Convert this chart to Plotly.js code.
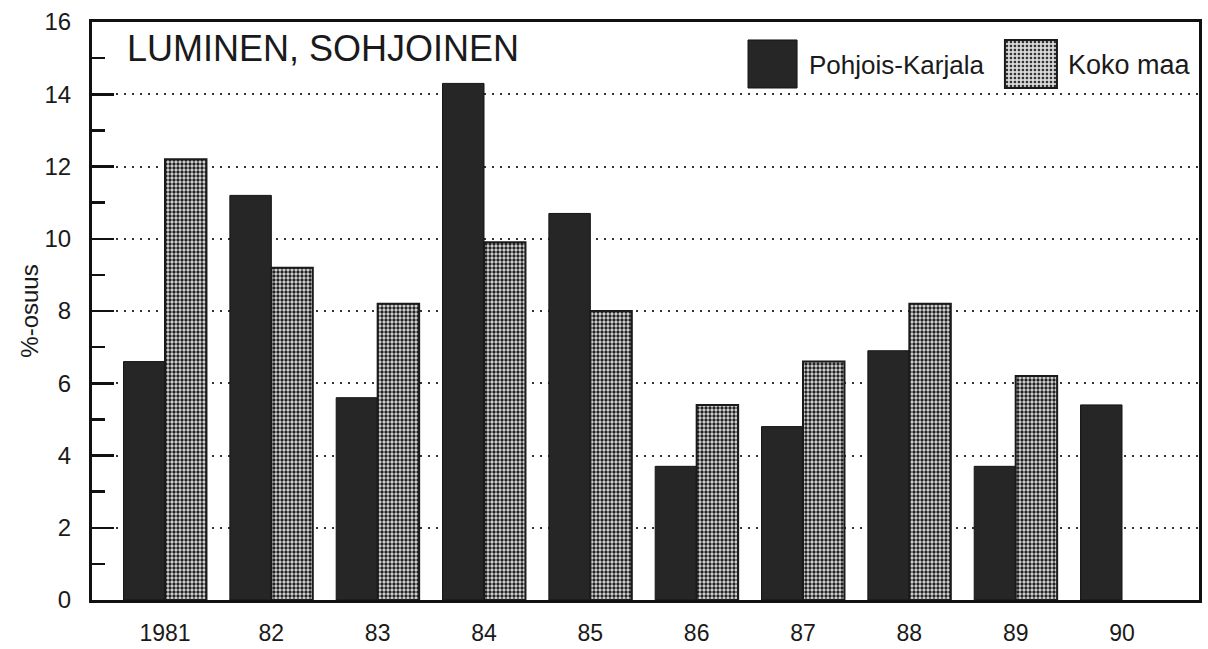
<!DOCTYPE html>
<html>
<head>
<meta charset="utf-8">
<script src="https://cdn.plot.ly/plotly-3.0.1.min.js"></script>
<style>html,body{margin:0;padding:0;background:#fff;}#chart{width:1208px;height:649px;}</style>
</head>
<body>
<div id="chart"></div>
<script>
// Data
var years = ["1981", "82", "83", "84", "85", "86", "87", "88", "89", "90"];
var pohjoisKarjala = [6.6, 11.2, 5.6, 14.3, 10.7, 3.7, 4.8, 6.9, 3.7, 5.4];
var kokoMaa = [12.2, 9.2, 8.2, 9.9, 8.0, 5.4, 6.6, 8.2, 6.2, null];
var seriesNames = ["Pohjois-Karjala", "Koko maa"];
var chartTitle = "LUMINEN, SOHJOINEN";
var yTitle = "%-osuus";
var yTicks = [0, 2, 4, 6, 8, 10, 12, 14, 16];

var FONT = "Liberation Sans, Arial, Helvetica, sans-serif";
var INK = "#1a1a1a";

var traces = [
  {
    type: "bar", name: seriesNames[0], x: years, y: pohjoisKarjala,
    marker: {color: "#262626", line: {color: "#151515", width: 1}},
    showlegend: false, hoverinfo: "x+y+name"
  },
  {
    type: "bar", name: seriesNames[1], x: years, y: kokoMaa,
    marker: {
      color: "#d8d8d8",
      line: {color: "#1a1a1a", width: 2},
      pattern: {shape: ".", fgcolor: "#222", bgcolor: "#dcdcdc", size: 4, solidity: 0.55}
    },
    showlegend: false, hoverinfo: "x+y+name"
  }
];

var dotsSvg = "data:image/svg+xml;utf8," + encodeURIComponent(
  '<svg xmlns="http://www.w3.org/2000/svg" width="52" height="48">' +
  '<defs><pattern id="p" width="4" height="4" patternUnits="userSpaceOnUse">' +
  '<rect width="4" height="4" fill="#dcdcdc"/><circle cx="2" cy="2" r="1.35" fill="#222"/></pattern></defs>' +
  '<rect width="52" height="48" fill="url(#p)"/></svg>');

var layout = {
  width: 1208, height: 649,
  margin: {l: 92, r: 9, t: 22, b: 49},
  paper_bgcolor: "#ffffff", plot_bgcolor: "#ffffff",
  font: {family: FONT, color: INK, size: 24},
  barmode: "group", bargap: 0.22, bargroupgap: 0,
  xaxis: {
    type: "category",
    range: [-0.6865, 9.724],
    showline: true, linewidth: 3, linecolor: "#111", mirror: true,
    ticks: "", showgrid: false, zeroline: false,
    tickfont: {family: FONT, size: 23, color: INK},
    ticklabelstandoff: 10
  },
  yaxis: {
    range: [0, 16],
    tickvals: yTicks,
    showline: true, linewidth: 3, linecolor: "#111", mirror: true,
    ticks: "inside", ticklen: 22, tickwidth: 2.5, tickcolor: "#111",
    minor: {dtick: 1, ticks: "inside", ticklen: 13, tickwidth: 2.5, tickcolor: "#111", showgrid: false},
    showgrid: true, gridcolor: "#333", gridwidth: 2, griddash: "2px,6px",
    zeroline: false,
    tickfont: {family: FONT, size: 24, color: INK},
    ticklabelstandoff: 13,
    title: {text: yTitle, font: {family: FONT, size: 24, color: INK}, standoff: 0}
  },
  annotations: [
    {text: chartTitle, xref: "paper", yref: "paper", x: 0.0298, y: 0.955,
     xanchor: "left", yanchor: "middle", showarrow: false,
     font: {family: FONT, size: 36, color: INK}},
    {text: seriesNames[0], xref: "paper", yref: "paper", x: 0.6459, y: 0.925,
     xanchor: "left", yanchor: "middle", showarrow: false,
     font: {family: FONT, size: 26, color: INK}},
    {text: seriesNames[1], xref: "paper", yref: "paper", x: 0.8800, y: 0.925,
     xanchor: "left", yanchor: "middle", showarrow: false,
     font: {family: FONT, size: 27, color: INK}}
  ],
  shapes: [
    {type: "rect", xref: "paper", yref: "paper", x0: 0.5926, x1: 0.6369, y0: 0.8858, y1: 0.9689,
     fillcolor: "#262626", line: {color: "#151515", width: 1}},
    {type: "rect", xref: "paper", yref: "paper", x0: 0.8247, x1: 0.8717, y0: 0.8858, y1: 0.9689,
     fillcolor: "rgba(0,0,0,0)", line: {color: "#1a1a1a", width: 2}, layer: "above"}
  ],
  images: [
    {source: dotsSvg, xref: "paper", yref: "paper", x: 0.8247, y: 0.9689,
     sizex: 0.047, sizey: 0.0831, xanchor: "left", yanchor: "top", sizing: "stretch", layer: "above"}
  ]
};

Plotly.newPlot("chart", traces, layout, {displayModeBar: false, staticPlot: true});
</script>
</body>
</html>
